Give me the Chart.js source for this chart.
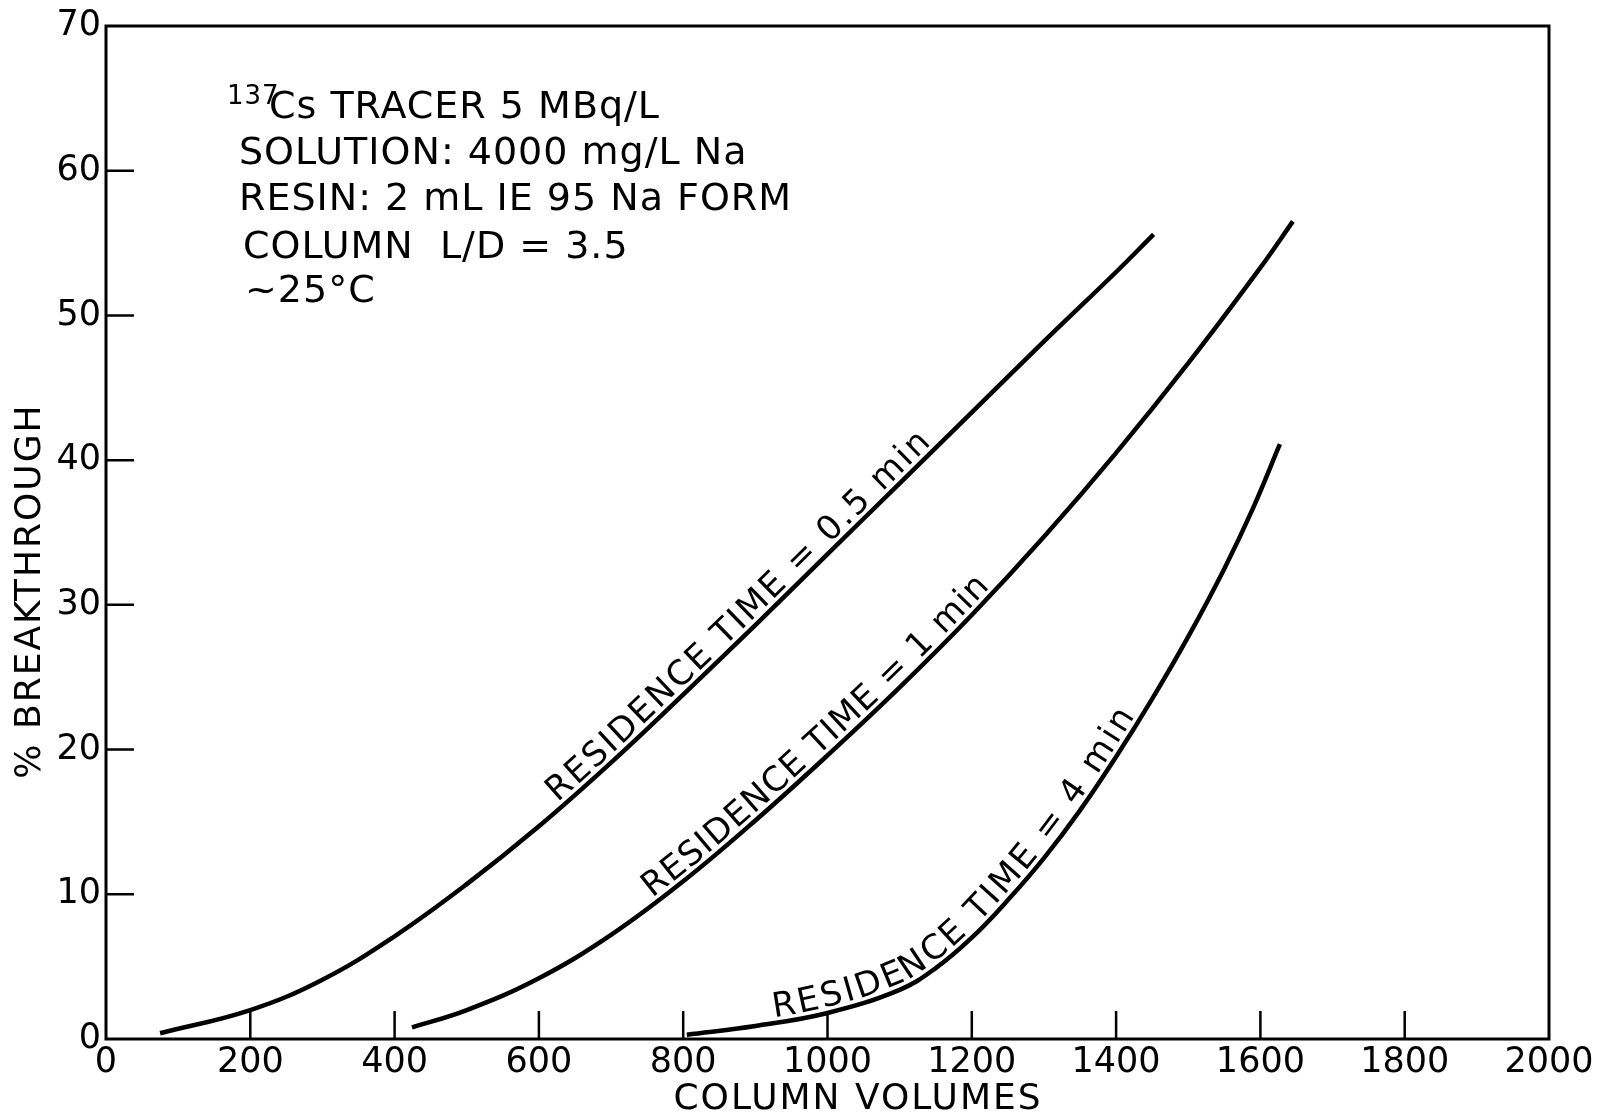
<!DOCTYPE html>
<html>
<head>
<meta charset="utf-8">
<script src="https://cdn.jsdelivr.net/npm/chart.js@4.4.1/dist/chart.umd.min.js"></script>
<style>
  html, body { margin: 0; padding: 0; background: #fff; }
  #wrap { width: 1605px; height: 1120px; }
</style>
</head>
<body>
<div id="wrap"><canvas id="chart" width="1605" height="1120"></canvas></div>
<script>
// column volumes / % breakthrough
const vol05 = [75, 200, 300, 400, 500, 600, 700, 800, 900, 1000, 1100, 1200, 1300, 1400, 1452];
const pct05 = [0.4, 2.0, 4.1, 7.1, 10.7, 14.7, 19.1, 23.8, 28.6, 33.5, 38.4, 43.3, 48.2, 53.0, 55.6];

const vol1 = [424, 500, 600, 700, 800, 900, 1000, 1100, 1200, 1300, 1400, 1500, 1600, 1645];
const pct1 = [0.8, 2.0, 4.2, 7.2, 10.9, 15.1, 19.6, 24.3, 29.3, 34.7, 40.5, 46.7, 53.3, 56.5];

const vol4 = [805, 900, 1000, 1100, 1150, 1200, 1250, 1300, 1350, 1400, 1450, 1500, 1550, 1590, 1627];
const pct4 = [0.3, 0.9, 1.8, 3.4, 4.9, 7.0, 9.6, 12.5, 15.8, 19.5, 23.5, 27.8, 32.5, 36.7, 41.1];

const xTicks = [0, 200, 400, 600, 800, 1000, 1200, 1400, 1600, 1800, 2000];
const yTicks = [0, 10, 20, 30, 40, 50, 60, 70];

const curveNames = ['RESIDENCE TIME = 0.5 min', 'RESIDENCE TIME = 1 min', 'RESIDENCE TIME = 4 min'];
const noteLines = ['Cs TRACER 5 MBq/L', 'SOLUTION: 4000 mg/L Na', 'RESIN: 2 mL IE 95 Na FORM', 'COLUMN  L/D = 3.5', '~25°C'];

const FONT = '"DejaVu Sans", sans-serif';

const zip = (xs, ys) => xs.map((x, i) => ({ x: x, y: ys[i] }));

// where each curve label starts / ends (in column volumes)
const labelSpans = [[630, 1150], [762, 1228], [925, 1432]];

function curvePath(chart, idx) {
  const pts = chart.getDatasetMeta(idx).data;
  const out = [];
  for (let i = 0; i < pts.length - 1; i++) {
    const a = pts[i], b = pts[i + 1];
    const c1x = a.cp2x ?? a.x, c1y = a.cp2y ?? a.y;
    const c2x = b.cp1x ?? b.x, c2y = b.cp1y ?? b.y;
    for (let k = 0; k < 24; k++) {
      const t = k / 24, u = 1 - t;
      out.push({
        x: u*u*u*a.x + 3*u*u*t*c1x + 3*u*t*t*c2x + t*t*t*b.x,
        y: u*u*u*a.y + 3*u*u*t*c1y + 3*u*t*t*c2y + t*t*t*b.y
      });
    }
  }
  const last = pts[pts.length - 1];
  out.push({ x: last.x, y: last.y });
  let s = 0;
  out[0].s = 0;
  for (let i = 1; i < out.length; i++) {
    s += Math.hypot(out[i].x - out[i-1].x, out[i].y - out[i-1].y);
    out[i].s = s;
  }
  return out;
}

function pointAt(path, s) {
  for (let i = 1; i < path.length; i++) {
    if (path[i].s >= s) {
      const a = path[i-1], b = path[i];
      const f = (s - a.s) / ((b.s - a.s) || 1);
      const dx = b.x - a.x, dy = b.y - a.y, d = Math.hypot(dx, dy) || 1;
      return { x: a.x + dx*f, y: a.y + dy*f, tx: dx/d, ty: dy/d };
    }
  }
  const a = path[path.length-2], b = path[path.length-1];
  const d = Math.hypot(b.x-a.x, b.y-a.y) || 1;
  return { x: b.x, y: b.y, tx: (b.x-a.x)/d, ty: (b.y-a.y)/d };
}

function arcAtX(path, px) {
  for (let i = 0; i < path.length; i++) if (path[i].x >= px) return path[i].s;
  return path[path.length-1].s;
}

const decorPlugin = {
  id: 'decor',
  afterDraw(chart) {
    const { ctx, chartArea: ca, scales } = chart;
    const xs = scales.x, ys = scales.y;
    ctx.save();
    ctx.strokeStyle = '#000';
    ctx.fillStyle = '#000';

    // frame
    ctx.lineWidth = 3;
    ctx.strokeRect(ca.left, ca.top, ca.right - ca.left, ca.bottom - ca.top);

    // inward tick marks
    ctx.lineWidth = 2.5;
    ctx.beginPath();
    xTicks.slice(1, -1).forEach(v => {
      const p = xs.getPixelForValue(v);
      ctx.moveTo(p, ca.bottom);
      ctx.lineTo(p, ca.bottom - 28);
    });
    yTicks.slice(1, -1).forEach(v => {
      const p = ys.getPixelForValue(v);
      ctx.moveTo(ca.left, p);
      ctx.lineTo(ca.left + 28, p);
    });
    ctx.stroke();

    // axis titles
    ctx.letterSpacing = '2px';
    ctx.font = '36px ' + FONT;
    ctx.textAlign = 'center';
    ctx.textBaseline = 'middle';
    ctx.fillText('COLUMN VOLUMES', ca.left + 752, 1100);
    ctx.save();
    ctx.translate(31, 591);
    ctx.rotate(-Math.PI / 2);
    ctx.fillText('% BREAKTHROUGH', 0, 0);
    ctx.restore();

    // conditions block
    ctx.letterSpacing = '1px';
    ctx.textAlign = 'left';
    ctx.textBaseline = 'alphabetic';
    ctx.font = '26px ' + FONT;
    ctx.fillText('137', ca.left + 121, 104);
    ctx.font = '38px ' + FONT;
    const noteX = [ca.left + 163, ca.left + 133, ca.left + 133, ca.left + 137, ca.left + 139];
    const noteY = [118, 164, 210, 258, 302];
    noteLines.forEach((t, i) => ctx.fillText(t, noteX[i], noteY[i]));
    ctx.letterSpacing = '0px';

    // curve labels along each curve
    ctx.font = '34px ' + FONT;
    curveNames.forEach((txt, idx) => {
      const path = curvePath(chart, idx);
      const s0 = arcAtX(path, xs.getPixelForValue(labelSpans[idx][0]));
      const s1 = arcAtX(path, xs.getPixelForValue(labelSpans[idx][1]));
      const chars = txt.split('');
      const widths = chars.map(c => ctx.measureText(c).width);
      const natural = widths.reduce((a, b) => a + b, 0);
      const extra = (s1 - s0 - natural) / (chars.length - 1);
      let s = s0;
      chars.forEach((c, i) => {
        const p = pointAt(path, s + widths[i] / 2);
        const gap = 6;
        ctx.save();
        ctx.translate(p.x + p.ty * gap, p.y - p.tx * gap);
        ctx.rotate(Math.atan2(p.ty, p.tx));
        ctx.textAlign = 'center';
        ctx.fillText(c, 0, 0);
        ctx.restore();
        s += widths[i] + extra;
      });
    });
    ctx.restore();
  }
};

const lineStyle = {
  showLine: true,
  borderColor: '#000',
  borderWidth: 4.5,
  pointRadius: 0,
  tension: 0.4,
  fill: false
};

new Chart(document.getElementById('chart'), {
  type: 'scatter',
  data: {
    datasets: [
      Object.assign({ label: curveNames[0], data: zip(vol05, pct05) }, lineStyle),
      Object.assign({ label: curveNames[1], data: zip(vol1, pct1) }, lineStyle),
      Object.assign({ label: curveNames[2], data: zip(vol4, pct4) }, lineStyle)
    ]
  },
  options: {
    responsive: false,
    animation: false,
    devicePixelRatio: 1,
    layout: { padding: { left: 0, right: 56, top: 24, bottom: 0 } },
    plugins: { legend: { display: false }, tooltip: { enabled: false } },
    scales: {
      x: {
        type: 'linear',
        min: 0,
        max: 2000,
        afterBuildTicks: s => { s.ticks = xTicks.map(v => ({ value: v })); },
        afterFit: s => { s.height = 81; },
        grid: { display: false, drawTicks: false },
        border: { display: false },
        ticks: {
          color: '#000',
          font: { family: FONT, size: 35 },
          padding: 3,
          maxRotation: 0,
          autoSkip: false,
          callback: v => String(v)
        }
      },
      y: {
        type: 'linear',
        min: 0,
        max: 70,
        afterBuildTicks: s => { s.ticks = yTicks.map(v => ({ value: v })); },
        afterFit: s => { s.width = 106; },
        grid: { display: false, drawTicks: false },
        border: { display: false },
        ticks: {
          color: '#000',
          font: { family: FONT, size: 35 },
          padding: 5,
          autoSkip: false,
          callback: v => String(v)
        }
      }
    }
  },
  plugins: [decorPlugin]
});
</script>
</body>
</html>
